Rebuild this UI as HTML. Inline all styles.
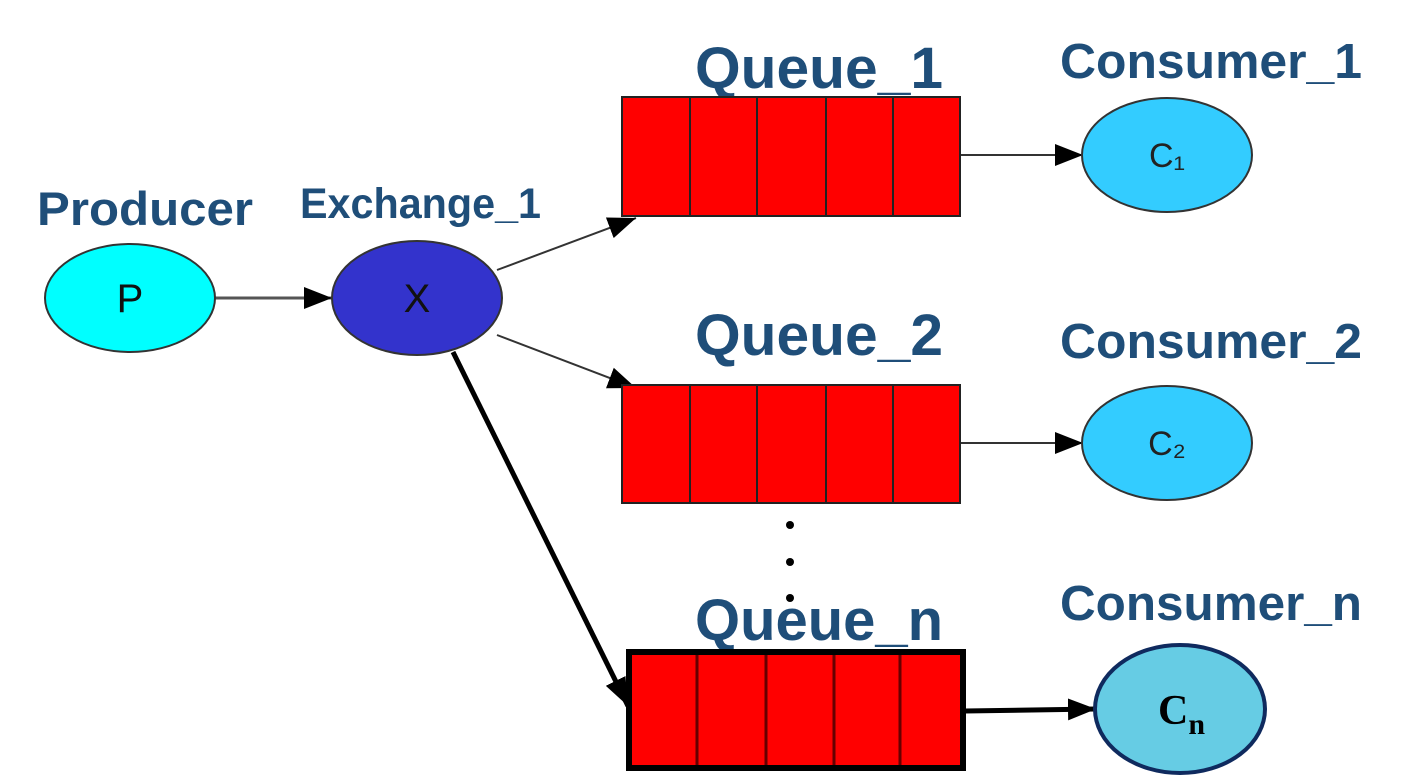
<!DOCTYPE html>
<html><head><meta charset="utf-8"><style>
html,body{margin:0;padding:0;background:#fff;}
svg text{font-family:"Liberation Sans",sans-serif;font-weight:bold;fill:#1f4e79;}
</style></head><body>
<svg width="1402" height="777" viewBox="0 0 1402 777" xmlns="http://www.w3.org/2000/svg">
<defs>
<marker id="a" markerWidth="28" markerHeight="22" refX="10" refY="5" orient="auto" markerUnits="userSpaceOnUse" viewBox="0 0 10 10" preserveAspectRatio="none"><path d="M0,0 L10,5 L0,10z" fill="#000"/></marker>
</defs>
<!-- labels -->
<text x="37" y="225" font-size="47" textLength="216" lengthAdjust="spacingAndGlyphs">Producer</text>
<text x="300" y="218" font-size="43" textLength="241" lengthAdjust="spacingAndGlyphs">Exchange_1</text>
<text x="695" y="88" font-size="58" textLength="248" lengthAdjust="spacingAndGlyphs">Queue_1</text>
<text x="695" y="355" font-size="58" textLength="248" lengthAdjust="spacingAndGlyphs">Queue_2</text>
<text x="695" y="640" font-size="58" textLength="248" lengthAdjust="spacingAndGlyphs">Queue_n</text>
<text x="1060" y="78" font-size="49" textLength="302" lengthAdjust="spacingAndGlyphs">Consumer_1</text>
<text x="1060" y="358" font-size="49" textLength="302" lengthAdjust="spacingAndGlyphs">Consumer_2</text>
<text x="1060" y="620" font-size="49" textLength="302" lengthAdjust="spacingAndGlyphs">Consumer_n</text>
<!-- connectors -->
<line x1="215" y1="298" x2="332" y2="298" stroke="#555" stroke-width="3" marker-end="url(#a)"/>
<line x1="497" y1="270" x2="636" y2="218" stroke="#333" stroke-width="2" marker-end="url(#a)"/>
<line x1="497" y1="335" x2="636" y2="388" stroke="#333" stroke-width="2" marker-end="url(#a)"/>
<line x1="453" y1="352" x2="628" y2="706" stroke="#000" stroke-width="5" marker-end="url(#a)"/>
<line x1="960" y1="155" x2="1083" y2="155" stroke="#333" stroke-width="2" marker-end="url(#a)"/>
<line x1="960" y1="443" x2="1083" y2="443" stroke="#333" stroke-width="2" marker-end="url(#a)"/>
<line x1="965" y1="711" x2="1096" y2="709" stroke="#000" stroke-width="5" marker-end="url(#a)"/>
<!-- nodes -->
<ellipse cx="130" cy="298" rx="85" ry="54" fill="#00ffff" stroke="#333" stroke-width="2"/>
<text x="130" y="312" font-size="40" text-anchor="middle" style="fill:#111;font-weight:normal">P</text>
<ellipse cx="417" cy="298" rx="85" ry="57" fill="#3333cc" stroke="#333" stroke-width="2"/>
<text x="417" y="312" font-size="40" text-anchor="middle" style="fill:#111;font-weight:normal">X</text>
<g stroke="#222" stroke-width="2">
<rect x="622" y="97" width="338" height="119" fill="#ff0000"/>
<line x1="690" y1="97" x2="690" y2="216"/><line x1="757" y1="97" x2="757" y2="216"/><line x1="826" y1="97" x2="826" y2="216"/><line x1="893" y1="97" x2="893" y2="216"/>
<rect x="622" y="385" width="338" height="118" fill="#ff0000"/>
<line x1="690" y1="385" x2="690" y2="503"/><line x1="757" y1="385" x2="757" y2="503"/><line x1="826" y1="385" x2="826" y2="503"/><line x1="893" y1="385" x2="893" y2="503"/>
</g>
<rect x="629" y="652" width="334" height="116" fill="#ff0000" stroke="#000" stroke-width="6"/>
<g stroke="#600" stroke-width="3"><line x1="697" y1="655" x2="697" y2="765"/><line x1="766" y1="655" x2="766" y2="765"/><line x1="834" y1="655" x2="834" y2="765"/><line x1="900" y1="655" x2="900" y2="765"/></g>
<circle cx="790" cy="525" r="4" fill="#000"/><circle cx="790" cy="562" r="4" fill="#000"/><circle cx="790" cy="598" r="4" fill="#000"/>
<ellipse cx="1167" cy="155" rx="85" ry="57" fill="#33ccff" stroke="#333" stroke-width="2"/>
<text x="1167" y="167" font-size="34" text-anchor="middle" style="fill:#222;font-weight:normal">C₁</text>
<ellipse cx="1167" cy="443" rx="85" ry="57" fill="#33ccff" stroke="#333" stroke-width="2"/>
<text x="1167" y="455" font-size="34" text-anchor="middle" style="fill:#222;font-weight:normal">C₂</text>
<ellipse cx="1180" cy="709" rx="85" ry="64" fill="#66cce4" stroke="#0f2a5e" stroke-width="4"/>
<text x="1158" y="724" font-size="42" style="fill:#000;font-family:'Liberation Serif',serif">C<tspan font-size="30" dy="10">n</tspan></text>
</svg>
</body></html>
